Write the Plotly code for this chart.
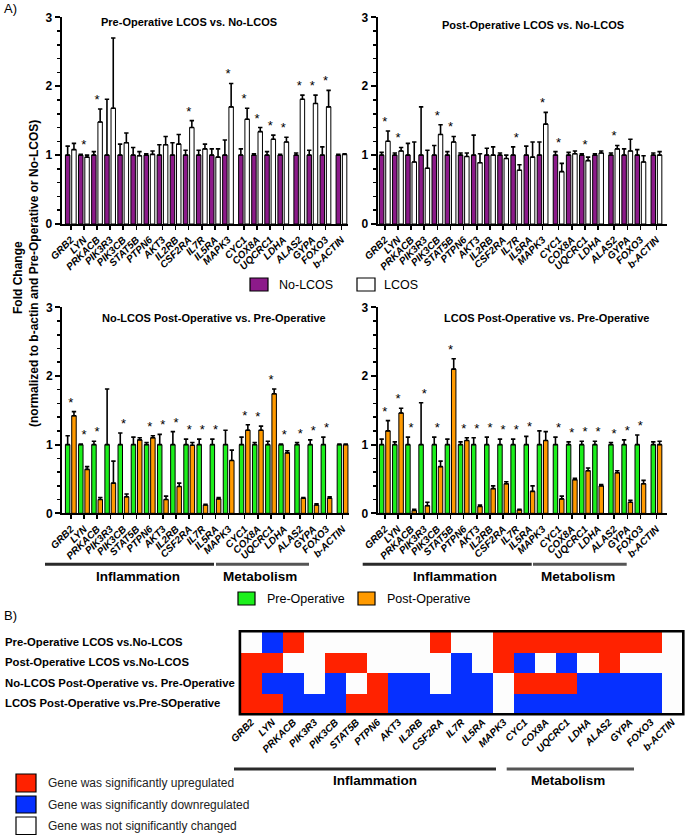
import plotly.graph_objects as go

W, H = 685, 836
FONT = "Liberation Sans, Arial, sans-serif"

genes = ["GRB2", "LYN", "PRKACB", "PIK3R3", "PIK3CB", "STAT5B", "PTPN6", "AKT3", "IL2RB",
         "CSF2RA", "IL7R", "IL5RA", "MAPK3", "CYC1", "COX8A", "UQCRC1", "LDHA", "ALAS2",
         "GYPA", "FOXO3", "b-ACTIN"]

# Panel 1: Pre-Operative LCOS vs. No-LCOS
p1_nolcos = [1, 1, 1, 1, 1, 1, 1, 1, 1, 1, 1, 1, 1, 1, 1, 1, 1, 1, 1, 1, 1]
p1_nolcos_err = [0.13, 0.01, 0.05, 0.81, 0.16, 0.11, 0.02, 0.15, 0.18, 0.07, 0.07, 0.09, 0.22,
                 0.09, 0.02, 0.05, 0.01, 0.03, 0.07, 0.12, 0.01]
p1_lcos = [1.08, 0.97, 1.48, 1.68, 1.18, 0.99, 1.01, 1.15, 1.16, 1.40, 1.09, 0.97, 1.70,
           1.52, 1.34, 1.23, 1.19, 1.81, 1.75, 1.70, 1.01]
p1_lcos_err = [0.09, 0.03, 0.19, 1.02, 0.14, 0.06, 0.05, 0.12, 0.14, 0.10, 0.07, 0.12, 0.34,
               0.16, 0.06, 0.06, 0.07, 0.06, 0.12, 0.24, 0.01]
p1_sig = [0, 1, 1, 0, 0, 0, 0, 0, 0, 1, 0, 0, 1, 1, 1, 1, 1, 1, 1, 1, 0]

# Panel 2: Post-Operative LCOS vs. No-LCOS
p2_nolcos = [1, 1, 1, 1, 1, 1, 1, 1, 1, 1, 1, 1, 1, 1, 1, 1, 1, 1, 1, 1, 1]
p2_nolcos_err = [0.04, 0.03, 0.17, 0.70, 0.14, 0.05, 0.03, 0.29, 0.10, 0.03, 0.12, 0.13, 0.19,
                 0.05, 0.04, 0.02, 0.02, 0.03, 0.09, 0.08, 0.03]
p2_lcos = [1.20, 1.06, 0.90, 0.81, 1.30, 1.19, 0.98, 0.89, 1.00, 0.95, 0.78, 0.97, 1.45,
           0.76, 1.02, 0.92, 1.03, 1.09, 1.06, 0.90, 1.00]
p2_lcos_err = [0.15, 0.05, 0.29, 0.26, 0.14, 0.08, 0.05, 0.13, 0.12, 0.05, 0.08, 0.22, 0.17,
               0.12, 0.04, 0.05, 0.03, 0.05, 0.17, 0.09, 0.05]
p2_sig = [1, 1, 0, 0, 1, 1, 0, 0, 0, 0, 1, 0, 1, 1, 0, 1, 0, 1, 0, 0, 0]

# Panel 3: No-LCOS Post-Operative vs. Pre-Operative
p3_pre = [1, 1, 1, 1, 1, 1, 1, 1, 1, 1, 1, 1, 1, 1, 1, 1, 1, 1, 1, 1, 1]
p3_pre_err = [0.13, 0.01, 0.05, 0.81, 0.17, 0.11, 0.03, 0.15, 0.19, 0.08, 0.08, 0.08, 0.21,
              0.11, 0.03, 0.05, 0.01, 0.03, 0.07, 0.11, 0.01]
p3_post = [1.42, 0.64, 0.20, 0.44, 0.24, 1.07, 1.10, 0.20, 0.39, 0.99, 0.12, 0.21, 0.77,
           1.21, 1.21, 1.74, 0.88, 0.22, 0.12, 0.22, 1.00]
p3_post_err = [0.06, 0.04, 0.03, 0.32, 0.04, 0.03, 0.03, 0.05, 0.05, 0.04, 0.01, 0.02, 0.15,
               0.08, 0.06, 0.07, 0.03, 0.01, 0.02, 0.02, 0.01]
p3_sig = [1, 1, 1, 0, 1, 0, 1, 1, 1, 1, 1, 1, 0, 1, 1, 1, 1, 1, 1, 1, 0]

# Panel 4: LCOS Post-Operative vs. Pre-Operative
p4_pre = [1, 1, 1, 1, 1, 1, 1, 1, 1, 1, 1, 1, 1, 1, 1, 1, 1, 1, 1, 1, 1]
p4_pre_err = [0.08, 0.04, 0.11, 0.61, 0.11, 0.08, 0.04, 0.10, 0.11, 0.08, 0.08, 0.12, 0.20,
              0.11, 0.04, 0.05, 0.05, 0.03, 0.07, 0.14, 0.04]
p4_post = [1.20, 1.46, 0.04, 0.11, 0.68, 2.10, 1.06, 0.10, 0.36, 0.43, 0.05, 0.32, 1.06,
           0.21, 0.49, 0.62, 0.40, 0.59, 0.16, 0.43, 1.00]
p4_post_err = [0.15, 0.07, 0.02, 0.05, 0.08, 0.15, 0.04, 0.02, 0.04, 0.03, 0.01, 0.08, 0.13,
               0.04, 0.02, 0.04, 0.02, 0.03, 0.03, 0.05, 0.05]
p4_sig = [1, 1, 1, 1, 1, 1, 1, 1, 1, 1, 1, 1, 0, 1, 1, 1, 1, 1, 1, 1, 0]

# Heatmap (B): 1 = up, -1 = down, 0 = not significant
hm_rows = ["Pre-Operative LCOS vs.No-LCOS", "Post-Operative LCOS vs.No-LCOS",
           "No-LCOS Post-Operative vs. Pre-Operative", "LCOS Post-Operative vs.Pre-SOperative"]
hm_pre_lcos_vs_nolcos = [0, -1, 1, 0, 0, 0, 0, 0, 0, 1, 0, 0, 1, 1, 1, 1, 1, 1, 1, 1, 0]
hm_post_lcos_vs_nolcos = [1, 1, 0, 0, 1, 1, 0, 0, 0, 0, -1, 0, 1, -1, 0, -1, 0, 1, 0, 0, 0]
hm_nolcos_post_vs_pre = [1, -1, -1, 0, -1, 0, 1, -1, -1, 0, -1, -1, 0, 1, 1, 1, -1, -1, -1, -1, 0]
hm_lcos_post_vs_pre = [1, 1, -1, -1, -1, 1, 1, -1, -1, -1, -1, -1, 0, -1, -1, -1, -1, -1, -1, -1, 0]

PURPLE = "#8C1A8A"
WHITE = "#FFFFFF"
GREEN = "#1CF01C"
ORANGE = "#FF9A00"
RED = "#FF2200"
BLUE = "#0630FF"


def X(p):
    return p / W


def Y(p):
    return 1 - p / H


# category positions with small gaps between gene groups
gap = 0.22
positions = []
for i in range(len(genes)):
    extra = 0.0
    if i >= 13:
        extra += gap
    if i >= 17:
        extra += gap
    if i >= 20:
        extra += gap
    positions.append(i + extra)

fig = go.Figure()

panels = [
    dict(title="Pre-Operative LCOS vs. No-LCOS", a=p1_nolcos, ae=p1_nolcos_err, b=p1_lcos,
         be=p1_lcos_err, sig=p1_sig, ca=PURPLE, cb=WHITE, xdom=(61.5, 348), xr=(-0.71, 21.16),
         ydom=(17.3, 224), txy=(188.5, 22)),
    dict(title="Post-Operative LCOS vs. No-LCOS", a=p2_nolcos, ae=p2_nolcos_err, b=p2_lcos,
         be=p2_lcos_err, sig=p2_sig, ca=PURPLE, cb=WHITE, xdom=(377.5, 666.7), xr=(-0.555, 21.44),
         ydom=(17.3, 224), txy=(533, 25)),
    dict(title="No-LCOS Post-Operative vs. Pre-Operative", a=p3_pre, ae=p3_pre_err, b=p3_post,
         be=p3_post_err, sig=p3_sig, ca=GREEN, cb=ORANGE, xdom=(62, 349), xr=(-0.67, 21.15),
         ydom=(307.3, 513.3), txy=(213.5, 318)),
    dict(title="LCOS Post-Operative vs. Pre-Operative", a=p4_pre, ae=p4_pre_err, b=p4_post,
         be=p4_post_err, sig=p4_sig, ca=GREEN, cb=ORANGE, xdom=(377.5, 666.7), xr=(-0.555, 21.44),
         ydom=(307.3, 513.3), txy=(546, 318)),
]

annotations = []
shapes = []
layout_axes = {}

for k, p in enumerate(panels, start=1):
    xa = "x" if k == 1 else f"x{k}"
    ya = "y" if k == 1 else f"y{k}"
    n = len(genes)
    fig.add_trace(go.Bar(
        x=positions, y=p["a"], width=0.34, offset=-0.41,
        marker=dict(color=p["ca"], line=dict(color="black", width=1)),
        error_y=dict(type="data", symmetric=False, array=p["ae"], arrayminus=[0] * n,
                     color="black", thickness=1.6, width=2.2),
        xaxis=xa, yaxis=ya, showlegend=False, hoverinfo="skip"))
    fig.add_trace(go.Bar(
        x=positions, y=p["b"], width=0.34, offset=0.07,
        marker=dict(color=p["cb"], line=dict(color="black", width=1)),
        error_y=dict(type="data", symmetric=False, array=p["be"], arrayminus=[0] * n,
                     color="black", thickness=1.6, width=2.2),
        xaxis=xa, yaxis=ya, showlegend=False, hoverinfo="skip"))
    sx, sy = [], []
    for i in range(n):
        if p["sig"][i]:
            sx.append(positions[i])
            sy.append(max(p["a"][i] + p["ae"][i], p["b"][i] + p["be"][i]) + 0.12)
    fig.add_trace(go.Scatter(
        x=sx, y=sy, mode="text", text=["*"] * len(sx), textposition="middle center",
        textfont=dict(size=13, color="black", family=FONT),
        xaxis=xa, yaxis=ya, showlegend=False, hoverinfo="skip"))

    xkey = "xaxis" if k == 1 else f"xaxis{k}"
    ykey = "yaxis" if k == 1 else f"yaxis{k}"
    layout_axes[xkey] = dict(
        domain=[X(p["xdom"][0]), X(p["xdom"][1])], range=list(p["xr"]), anchor=ya,
        automargin=False,
        showline=True, linecolor="black", linewidth=2, ticks="outside", ticklen=4,
        tickwidth=1.5, tickcolor="black", tickvals=positions,
        ticktext=[f"<b><i>{g}</i></b>" for g in genes], tickangle=-45,
        tickfont=dict(size=10, color="black", family=FONT),
        showgrid=False, zeroline=False, fixedrange=True)
    layout_axes[ykey] = dict(
        domain=[Y(p["ydom"][1]), Y(p["ydom"][0])], range=[0, 3], anchor=xa,
        automargin=False,
        showline=True, linecolor="black", linewidth=2, ticks="outside", ticklen=5,
        tickwidth=2, tickcolor="black", tickvals=[0, 1, 2, 3],
        ticktext=["<b>0</b>", "<b>1</b>", "<b>2</b>", "<b>3</b>"],
        tickfont=dict(size=12, color="black", family=FONT),
        minor=dict(ticks="outside", dtick=0.2, ticklen=3, tickwidth=1.5, tickcolor="black"),
        showgrid=False, zeroline=False, fixedrange=True)
    annotations.append(dict(
        x=X(p["txy"][0]), y=Y(p["txy"][1]), xref="paper", yref="paper",
        text=f"<b>{p['title']}</b>", showarrow=False, xanchor="center", yanchor="middle",
        font=dict(size=11, color="black", family=FONT)))

# Heatmap
hm_z = [hm_pre_lcos_vs_nolcos, hm_post_lcos_vs_nolcos, hm_nolcos_post_vs_pre, hm_lcos_post_vs_pre]
fig.add_trace(go.Heatmap(
    z=hm_z, x=list(range(len(genes))), y=list(range(len(hm_rows))),
    colorscale=[[0, BLUE], [0.5, "#FDFDFD"], [1, RED]], zmin=-1, zmax=1,
    showscale=False, xaxis="x5", yaxis="y5", hoverinfo="skip"))
hx0, hx1, hy0, hy1 = 240.7, 682.5, 632.0, 713.5
layout_axes["xaxis5"] = dict(
    domain=[X(hx0), X(hx1)], range=[-0.5, 20.5], anchor="y5", tickvals=list(range(len(genes))),
    automargin=False,
    ticktext=[f"<b><i>{g}</i></b>" for g in genes], tickangle=-45,
    tickfont=dict(size=10, color="black", family=FONT), ticks="", showline=False,
    showgrid=False, zeroline=False, fixedrange=True)
layout_axes["yaxis5"] = dict(
    domain=[Y(hy1), Y(hy0)], range=[3.5, -0.5], anchor="x5", showticklabels=False,
    automargin=False,
    ticks="", showline=False, showgrid=False, zeroline=False, fixedrange=True)
shapes.append(dict(type="rect", xref="paper", yref="paper", x0=X(hx0 - 0.8), x1=X(hx1 + 0.8),
                   y0=Y(hy1 + 0.8), y1=Y(hy0 - 0.8), line=dict(color="black", width=2.6)))

row_y = [641.7, 661.7, 682.7, 702.7]
for lbl, yy in zip(hm_rows, row_y):
    annotations.append(dict(x=X(3), y=Y(yy), xref="paper", yref="paper", text=f"<b>{lbl}</b>",
                            showarrow=False, xanchor="left", yanchor="middle",
                            font=dict(size=11.3, color="black", family=FONT)))


def hline(x0, x1, y, color, w=3):
    shapes.append(dict(type="line", xref="paper", yref="paper", x0=X(x0), x1=X(x1),
                       y0=Y(y), y1=Y(y), line=dict(color=color, width=w)))


def label(x, y, text, size, bold=False, anchor="center", color="black"):
    t = f"<b>{text}</b>" if bold else text
    annotations.append(dict(x=X(x), y=Y(y), xref="paper", yref="paper", text=t, showarrow=False,
                            xanchor=anchor, yanchor="middle",
                            font=dict(size=size, color=color, family=FONT)))


# group brackets under bar charts
hline(45, 214, 564.3, "#2a2a2a")
hline(216, 309, 564.3, "#555555")
label(138, 576, "Inflammation", 13.5, bold=True)
label(260, 576, "Metabolism", 13.5, bold=True)
hline(362.7, 531.7, 564.3, "#2a2a2a")
hline(533, 626.7, 564.3, "#555555")
label(455, 576, "Inflammation", 13.5, bold=True)
label(578, 576, "Metabolism", 13.5, bold=True)

# group brackets under heatmap
hline(234, 496, 769, "#2a2a2a")
hline(506.7, 634, 769, "#555555")
label(375, 780, "Inflammation", 13.5, bold=True)
label(568, 780, "Metabolism", 13.5, bold=True)

# panel letters
label(2, 8, "A)", 13, anchor="left")
label(2, 615, "B)", 13, anchor="left")

# y-axis title
annotations.append(dict(x=X(18), y=Y(278), xref="paper", yref="paper", text="<b>Fold Change</b>",
                        showarrow=False, textangle=-90, xanchor="center", yanchor="middle",
                        font=dict(size=12, color="black", family=FONT)))
annotations.append(dict(x=X(34), y=Y(274), xref="paper", yref="paper",
                        text="<b>(normalized to b-actin and Pre-Operative or No-LCOS)</b>",
                        showarrow=False, textangle=-90, xanchor="center", yanchor="middle",
                        font=dict(size=12, color="black", family=FONT)))


def legbox(x0, y0, x1, y1, color):
    shapes.append(dict(type="rect", xref="paper", yref="paper", x0=X(x0), x1=X(x1),
                       y0=Y(y1), y1=Y(y0), fillcolor=color, line=dict(color="black", width=1.2)))


# legend 1
legbox(250, 278, 268, 291, PURPLE)
label(277, 285, "No-LCOS", 12.5, anchor="left")
legbox(357, 278, 375, 291, WHITE)
label(382, 285, "LCOS", 12.5, anchor="left")

# legend 2
legbox(238, 592, 255, 605, GREEN)
label(265, 598.5, "Pre-Operative", 12.5, anchor="left")
legbox(358, 592, 375, 605, ORANGE)
label(385, 598.5, "Post-Operative", 12.5, anchor="left")

# heatmap legend
legbox(16, 774, 36, 792, RED)
label(45.7, 783, "Gene was significantly upregulated", 12, anchor="left", color="#222222")
legbox(16, 796, 36, 813, BLUE)
label(45.7, 805, "Gene was significantly downregulated", 12, anchor="left", color="#222222")
legbox(16, 817, 36, 834.5, WHITE)
label(45.7, 826, "Gene was not significantly changed", 12, anchor="left", color="#222222")

fig.update_layout(
    width=W, height=H, margin=dict(l=0, r=0, t=0, b=0, autoexpand=False),
    paper_bgcolor="white", plot_bgcolor="white", showlegend=False,
    barmode="overlay", font=dict(family=FONT, color="black"),
    annotations=annotations, shapes=shapes, **layout_axes)

fig.write_html(
    "out.html",
    config={"displayModeBar": False, "staticPlot": True},
    post_script="document.body.style.margin='0';document.body.style.padding='0';"
                "document.body.style.overflow='hidden';")
